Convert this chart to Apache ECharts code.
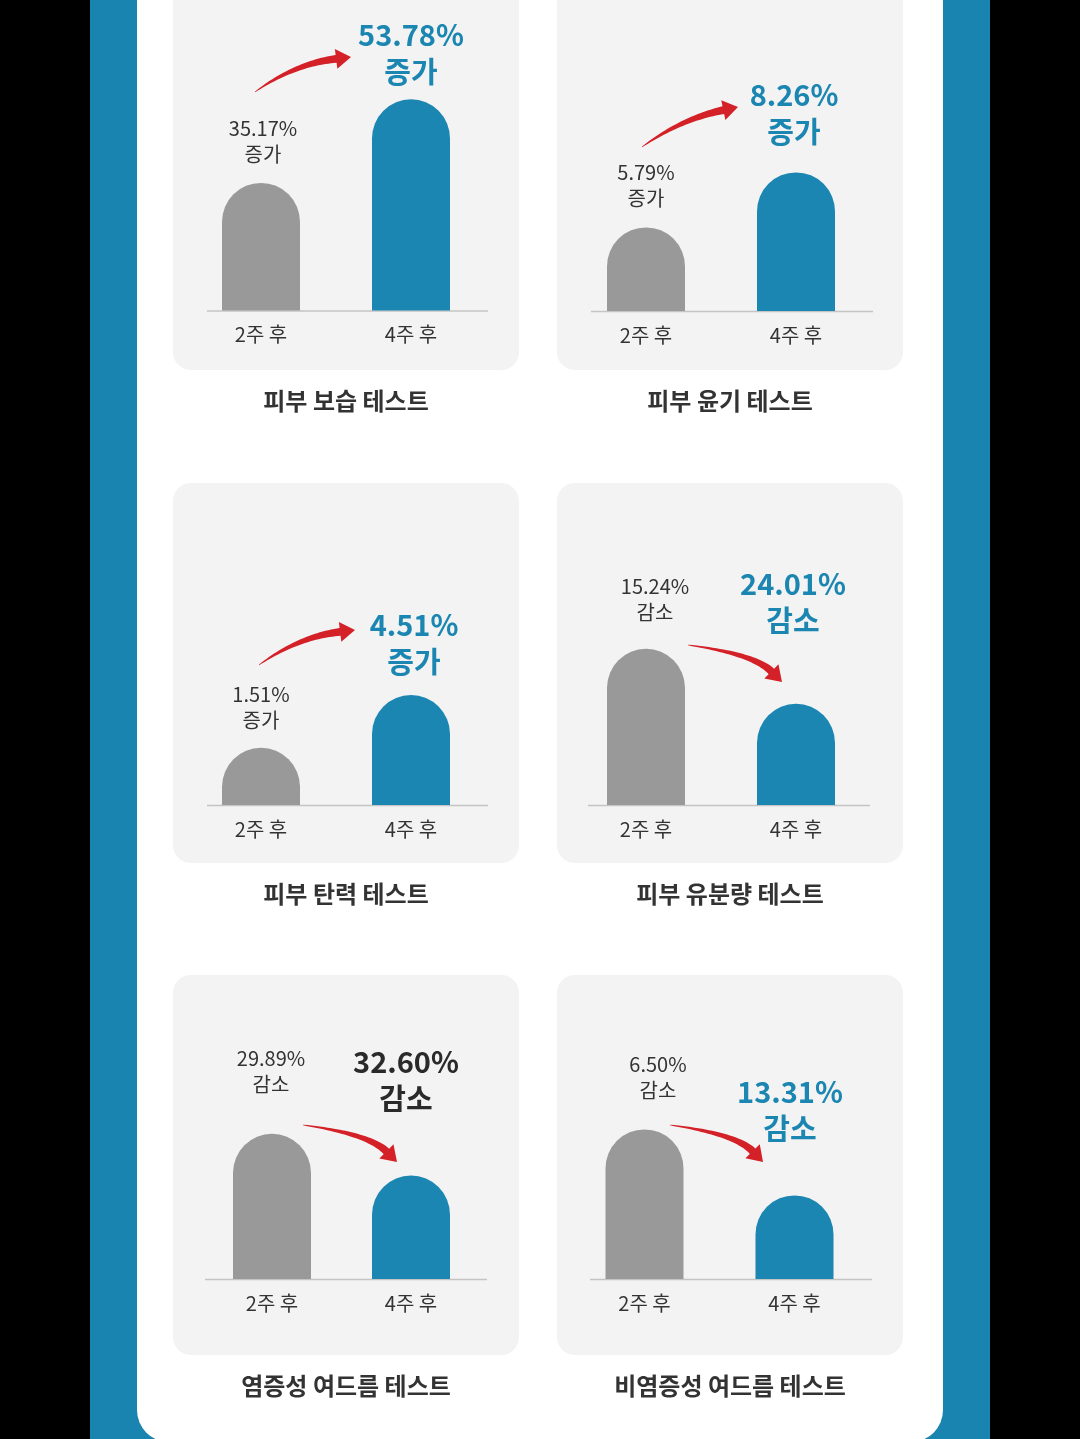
<!DOCTYPE html>
<html>
<head>
<meta charset="utf-8">
<script src="https://cdn.jsdelivr.net/npm/echarts@6/dist/echarts.min.js"></script>
<style>
  html, body { margin: 0; padding: 0; background: #000; }
  #chart { width: 1080px; height: 1439px; }
</style>
</head>
<body>
<div id="chart"></div>
<script>
// 데이터
const tests = ['피부 보습 테스트', '피부 윤기 테스트', '피부 탄력 테스트', '피부 유분량 테스트', '염증성 여드름 테스트', '비염증성 여드름 테스트'];
const periods = ['2주 후', '4주 후'];
const changeWord = ['증가', '증가', '증가', '감소', '감소', '감소'];
const pctWeek2 = [35.17, 5.79, 1.51, 15.24, 29.89, 6.50];
const pctWeek4 = [53.78, 8.26, 4.51, 24.01, 32.60, 13.31];
// 막대 높이 (그림에서 읽은 상대값, 0~100)
const barWeek2 = [58, 38, 26, 71, 66, 68];
const barWeek4 = [96, 63, 50, 46, 47, 38];

const FONT = '"Noto Sans CJK KR", "Noto Sans", sans-serif';
const GRAY = '#999999';
const BLUE = '#1b86b1';
const DARK = '#333333';
const GRID_H = 220;

// 레이아웃 (위치만)
const layout = [
  { left: 186, width: 300, base: 310.5, line: [207, 488], small: [263, 128], big: [411, 35], bigColor: BLUE,
    arrow: { T: [255, 92], Q: [294, 64], P: [351, 57] }, card: [173, -20, 346, 390], title: [346, 401] },
  { left: 571, width: 300, base: 311, line: [591, 873], small: [646, 172], big: [794, 95], bigColor: BLUE,
    arrow: { T: [642, 147], Q: [681, 119], P: [738, 107] }, card: [557, -20, 346, 390], title: [730, 401] },
  { left: 186, width: 300, base: 805, line: [207, 488], small: [261, 694], big: [414, 625], bigColor: BLUE,
    arrow: { T: [259, 665], Q: [298, 637], P: [355, 630] }, card: [173, 483, 346, 380], title: [346, 894] },
  { left: 571, width: 300, base: 805, line: [588, 870], small: [655, 586], big: [793, 584], bigColor: BLUE,
    arrow: { T: [688, 645], Q: [754, 654], P: [782, 682] }, card: [557, 483, 346, 380], title: [730, 894] },
  { left: 202.5, width: 278, base: 1279, line: [205, 487], small: [271, 1058], big: [406, 1062], bigColor: '#2a2a2a',
    arrow: { T: [303, 1125], Q: [369, 1134], P: [397, 1162] }, card: [173, 975, 346, 380], title: [346, 1386] },
  { left: 569.5, width: 300, base: 1279, line: [590, 872], small: [658, 1064], big: [790, 1092], bigColor: BLUE,
    arrow: { T: [670, 1125], Q: [736, 1134], P: [763, 1162] }, card: [557, 975, 346, 380], title: [730, 1386] }
];

function text(str, x, y, size, weight, color) {
  return {
    type: 'text', z: 20, x: x, y: y,
    style: {
      text: str, fill: color, font: weight + ' ' + size + 'px ' + FONT,
      align: 'center', verticalAlign: 'middle', textAlign: 'center', textVerticalAlign: 'middle'
    }
  };
}

// 빨간 곡선 화살표 (굵어지는 몸통 + 삼각형 머리)
function arrowShape(a) {
  const T = a.T, Q = a.Q, P = a.P;
  const headLen = 15, headW = 10;
  let dx = P[0] - Q[0], dy = P[1] - Q[1];
  let len = Math.hypot(dx, dy);
  dx /= len; dy /= len;
  const B = [P[0] - headLen * dx, P[1] - headLen * dy];
  const leftPts = [], rightPts = [];
  const n = 30;
  for (let i = 0; i <= n; i++) {
    const t = i / n;
    const px = (1 - t) * (1 - t) * T[0] + 2 * (1 - t) * t * Q[0] + t * t * B[0];
    const py = (1 - t) * (1 - t) * T[1] + 2 * (1 - t) * t * Q[1] + t * t * B[1];
    let tx = 2 * (1 - t) * (Q[0] - T[0]) + 2 * t * (B[0] - Q[0]);
    let ty = 2 * (1 - t) * (Q[1] - T[1]) + 2 * t * (B[1] - Q[1]);
    const tl = Math.hypot(tx, ty);
    tx /= tl; ty /= tl;
    const w = 0.3 + 3.6 * Math.pow(t, 0.8);
    leftPts.push([px - ty * w, py + tx * w]);
    rightPts.push([px + ty * w, py - tx * w]);
  }
  const pts = leftPts.slice();
  pts.push([B[0] - dy * headW, B[1] + dx * headW]);
  pts.push([P[0], P[1]]);
  pts.push([B[0] + dy * headW, B[1] - dx * headW]);
  for (let i = rightPts.length - 1; i >= 0; i--) pts.push(rightPts[i]);
  return {
    type: 'polygon', z: 15,
    shape: { points: pts },
    style: { fill: '#d42027' }
  };
}

const graphics = [
  // 파란 테두리와 흰 패널
  { type: 'rect', z: 0, shape: { x: 90, y: 0, width: 900, height: 1439 }, style: { fill: '#1a84b0' } },
  { type: 'rect', z: 1, shape: { x: 137, y: -60, width: 806, height: 1502, r: [0, 0, 32, 32] }, style: { fill: '#ffffff' } }
];

const grids = [], xAxes = [], yAxes = [], series = [];

layout.forEach(function (L, i) {
  graphics.push({ type: 'rect', z: 2, shape: { x: L.card[0], y: L.card[1], width: L.card[2], height: L.card[3], r: 18 }, style: { fill: '#f3f3f3' } });
  graphics.push({ type: 'line', z: 3, shape: { x1: L.line[0], y1: L.base + 0.5, x2: L.line[1], y2: L.base + 0.5 }, style: { stroke: '#c4c4c4', lineWidth: 1.5 } });
  graphics.push(text(pctWeek2[i].toFixed(2) + '%', L.small[0], L.small[1], 20, 'normal', DARK));
  graphics.push(text(changeWord[i], L.small[0], L.small[1] + 26, 20, 'normal', DARK));
  graphics.push(text(pctWeek4[i].toFixed(2) + '%', L.big[0], L.big[1], 29, 'bold', L.bigColor));
  graphics.push(text(changeWord[i], L.big[0], L.big[1] + 37, 29, 'bold', L.bigColor));
  graphics.push(text(tests[i], L.title[0], L.title[1], 24, 'bold', DARK));
  graphics.push(arrowShape(L.arrow));

  grids.push({ left: L.left, width: L.width, top: L.base - GRID_H, height: GRID_H, z: 10 });
  xAxes.push({
    type: 'category', gridIndex: i, data: periods,
    axisLine: { show: false }, axisTick: { show: false },
    axisLabel: { color: DARK, fontSize: 20, fontFamily: FONT, margin: 14 },
    z: 10
  });
  yAxes.push({ type: 'value', gridIndex: i, min: 0, max: 100, show: false, splitLine: { show: false } });
  series.push({
    type: 'bar', xAxisIndex: i, yAxisIndex: i, barWidth: 78, z: 10,
    itemStyle: { borderRadius: [39, 39, 0, 0] },
    data: [
      { value: barWeek2[i], itemStyle: { color: GRAY } },
      { value: barWeek4[i], itemStyle: { color: BLUE } }
    ],
    silent: true, animation: false
  });
});

const chart = echarts.init(document.getElementById('chart'));
chart.setOption({
  animation: false,
  backgroundColor: '#000000',
  graphic: { elements: graphics },
  grid: grids,
  xAxis: xAxes,
  yAxis: yAxes,
  series: series
});
</script>
</body>
</html>
